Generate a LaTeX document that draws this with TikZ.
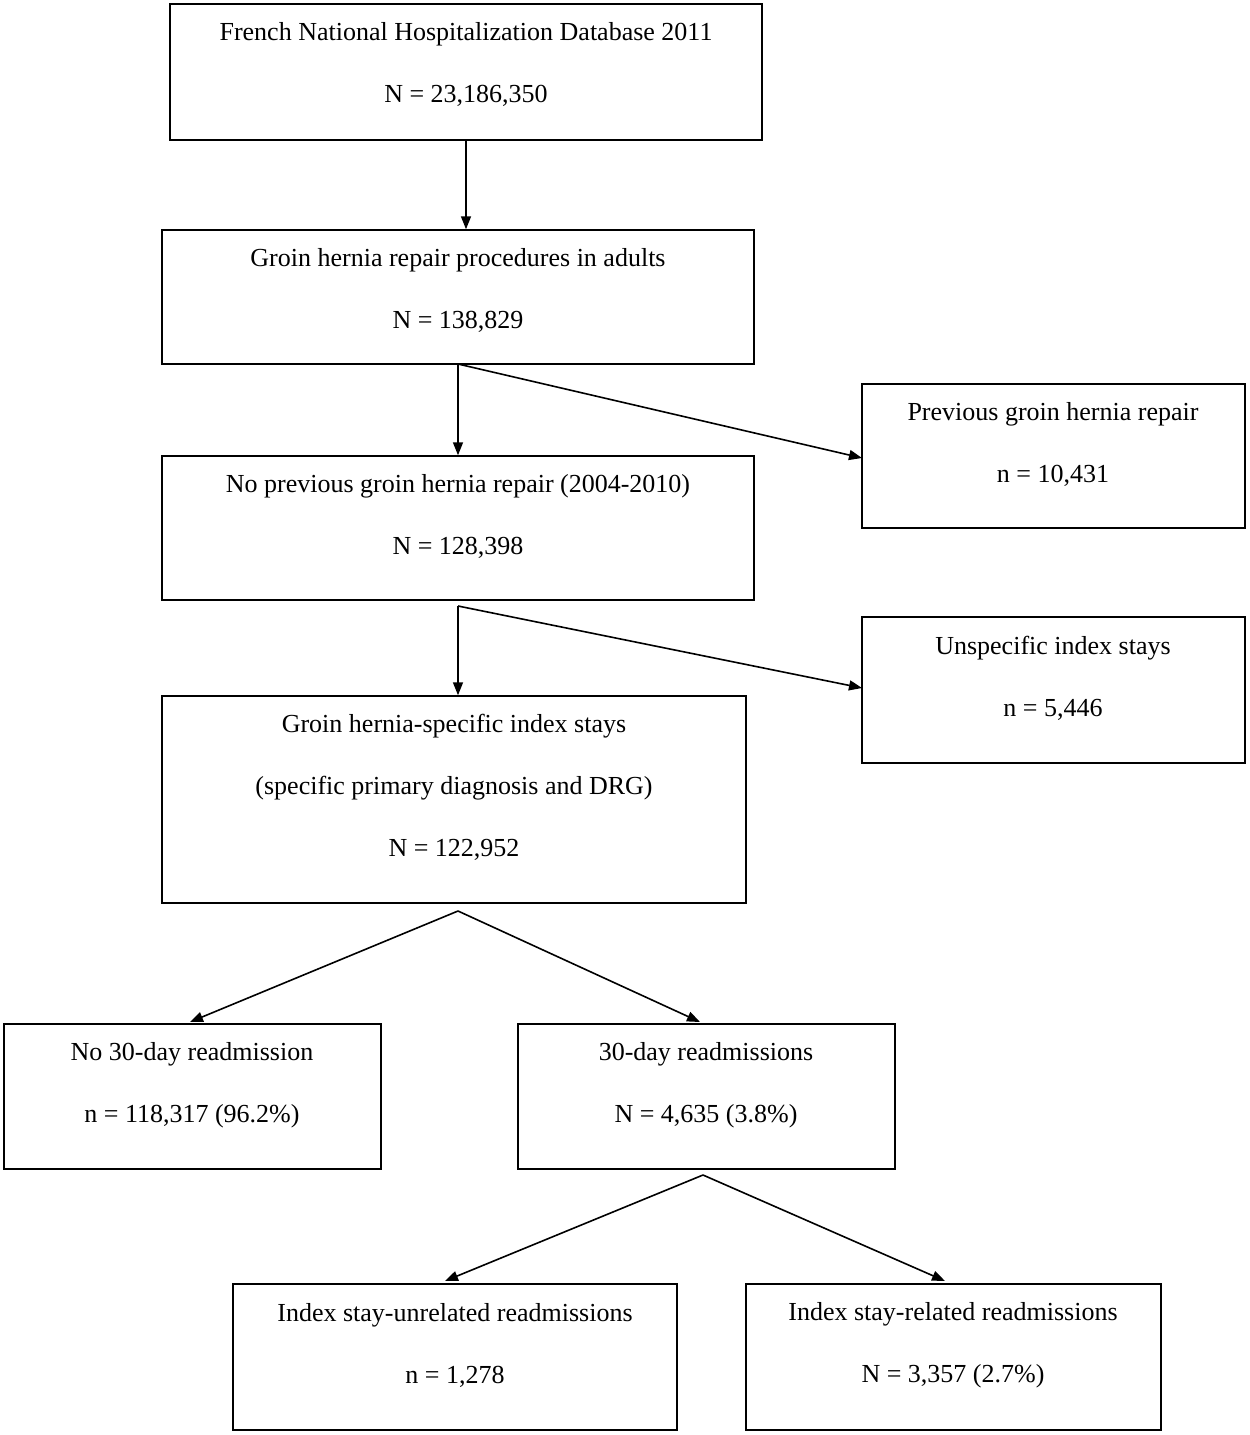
\documentclass[tikz,border=0pt]{standalone}
\usepackage{fontspec}
\setmainfont{Liberation Serif}
\usetikzlibrary{arrows.meta}
\begin{document}
\begin{tikzpicture}[x=1pt,y=-1pt,
 box/.style={draw,line width=1.5pt,inner sep=0},
 txt/.style={font=\fontsize{26}{30}\selectfont,inner sep=0,anchor=base},
 arr/.style={line width=1.6pt,-{Triangle[length=13pt,width=10pt]}}]
\useasboundingbox (0,0) rectangle (1250,1435);
\newcommand{\bx}[5]{\node[box,minimum width=#4-#2,minimum height=#5-#3] (#1) at ({(#2+#4)/2},{(#3+#5)/2}) {};}
\bx{b1}{170}{4}{762}{140}
\bx{b2}{162}{230}{754}{364}
\bx{b3}{162}{456}{754}{600}
\bx{b4}{862}{384}{1245}{528}
\bx{b5}{862}{617}{1245}{763}
\bx{b6}{162}{696}{746}{903}
\bx{b7}{4}{1024}{381}{1169}
\bx{b8}{518}{1024}{895}{1169}
\bx{b9}{233}{1284}{677}{1430}
\bx{b10}{746}{1284}{1161}{1430}
\node[txt] (t1a) at (466,40) {French National Hospitalization Database 2011};
\node[txt] (t1b) at (466,102) {N = 23,186,350};
\node[txt] (t2a) at (458,266) {Groin hernia repair procedures in adults};
\node[txt] (t2b) at (458,328) {N = 138,829};
\node[txt] (t3a) at (458,492) {No previous groin hernia repair (2004-2010)};
\node[txt] (t3b) at (458,554) {N = 128,398};
\node[txt] (t4a) at (1053,420) {Previous groin hernia repair};
\node[txt] (t4b) at (1053,482) {n = 10,431};
\node[txt] (t5a) at (1053,654) {Unspecific index stays};
\node[txt] (t5b) at (1053,716) {n = 5,446};
\node[txt] (t6a) at (454,732) {Groin hernia-specific index stays};
\node[txt] (t6b) at (454,794) {(specific primary diagnosis and DRG)};
\node[txt] (t6c) at (454,856) {N = 122,952};
\node[txt] (t7a) at (192,1060) {No 30-day readmission};
\node[txt] (t7b) at (192,1122) {n = 118,317 (96.2\%)};
\node[txt] (t8a) at (706,1060) {30-day readmissions};
\node[txt] (t8b) at (706,1122) {N = 4,635 (3.8\%)};
\node[txt] (t9a) at (455,1321) {Index stay-unrelated readmissions};
\node[txt] (t9b) at (455,1383) {n = 1,278};
\node[txt] (t10a) at (953,1320) {Index stay-related readmissions};
\node[txt] (t10b) at (953,1382) {N = 3,357 (2.7\%)};
\coordinate (s2) at (458,364);
\coordinate (s3) at (458,606);
\coordinate (s6) at (458,911);
\coordinate (s8) at (703,1175);
\draw[arr] (b1.south) -- (b2.north-|b1.south);
\draw[arr] (s2) -- (b3.north-|s2);
\draw[arr] (s2) -- (862,458);
\draw[arr] (s3) -- (b6.north-|s3);
\draw[arr] (s3) -- (862,688);
\draw[arr] (s6) -- (190,1022);
\draw[arr] (s6) -- (700,1022);
\draw[arr] (s8) -- (445,1281);
\draw[arr] (s8) -- (945,1281);
\end{tikzpicture}
\end{document}
